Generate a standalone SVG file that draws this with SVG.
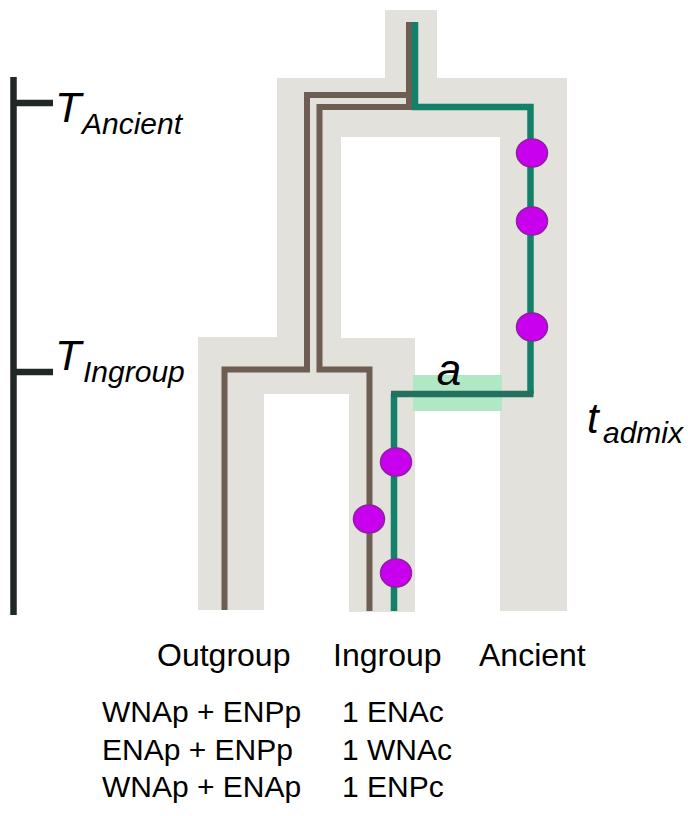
<svg xmlns="http://www.w3.org/2000/svg" width="688" height="816" viewBox="0 0 688 816">
  <style>
    .bg { fill: #e2e1db; }
    .brown { fill: none; stroke: #6d5d53; stroke-width: 6; stroke-linejoin: miter; }
    .green { fill: none; stroke: #13806a; stroke-width: 6.5; stroke-linejoin: miter; }
    .admix { fill: none; stroke: #24705f; stroke-width: 6.5; }
    .mut { fill: #c800ee; stroke: #8b229e; stroke-width: 1.5; }
    .axis { fill: none; stroke: #1f2824; stroke-width: 6.5; }
    .lbl { font-family: "Liberation Sans", Arial, sans-serif; fill: #000; }
    .it { font-style: italic; }
  </style>

  <g id="population-tree-background">
    <path class="bg" d="M385,10 H437 V78 H567 V611 H500 V137 H341 V338 H415 V612 H349 V394 H264 V610 H198 V337 H277 V78 H385 Z"/>
  </g>

  <g id="admixture-band">
    <rect x="413" y="375" width="89" height="36" fill="#b0e8c5"/>
  </g>

  <g id="connectors">
    <path class="brown" d="M409,22 V95 H307 V369.5 H224.5 V610"/>
    <path class="brown" d="M409,22 V107 H319.5 V369.5 H369.5 V611"/>
    <path class="green" d="M415,22 V107 H530.5 V394"/>
    <path class="green" d="M394,394 V611"/>
    <path class="admix" d="M533.5,394 H391"/>
  </g>

  <g id="mutations">
    <ellipse id="mut-ancient-1" class="mut" cx="532" cy="153" rx="15.5" ry="14"/>
    <ellipse id="mut-ancient-2" class="mut" cx="532" cy="221" rx="15.5" ry="14"/>
    <ellipse id="mut-ancient-3" class="mut" cx="532" cy="327" rx="15.5" ry="14"/>
    <ellipse id="mut-ingroup-1" class="mut" cx="396" cy="462" rx="15.5" ry="14"/>
    <ellipse id="mut-ingroup-2" class="mut" cx="369" cy="519" rx="15.5" ry="14"/>
    <ellipse id="mut-ingroup-3" class="mut" cx="396" cy="573" rx="15.5" ry="14"/>
  </g>

  <g id="time-axis">
    <path class="axis" d="M13.5,77 V615"/>
    <path class="axis" d="M13.5,103 H53"/>
    <path class="axis" d="M13.5,372 H53"/>
    <text class="lbl it" x="55" y="122" font-size="43">T<tspan x="82" y="134" font-size="30">Ancient</tspan></text>
    <text class="lbl it" x="55" y="370" font-size="43">T<tspan x="83" y="382" font-size="30">Ingroup</tspan></text>
  </g>

  <g id="admix-labels">
    <text class="lbl it" x="449" y="385" font-size="44" text-anchor="middle">a</text>
    <text class="lbl it" x="587" y="433" font-size="42">t<tspan x="603" y="443" font-size="30">admix</tspan></text>
  </g>

  <g id="tip-labels">
    <text class="lbl" x="157" y="666" font-size="32">Outgroup</text>
    <text class="lbl" x="333" y="666" font-size="32">Ingroup</text>
    <text class="lbl" x="479" y="666" font-size="32">Ancient</text>
  </g>

  <g id="sample-table">
    <text class="lbl" x="102" y="722" font-size="30">WNAp + ENPp</text>
    <text class="lbl" x="342" y="722" font-size="30">1 ENAc</text>
    <text class="lbl" x="102" y="760" font-size="30">ENAp + ENPp</text>
    <text class="lbl" x="342" y="760" font-size="30">1 WNAc</text>
    <text class="lbl" x="102" y="797" font-size="30">WNAp + ENAp</text>
    <text class="lbl" x="342" y="797" font-size="30">1 ENPc</text>
  </g>
</svg>
